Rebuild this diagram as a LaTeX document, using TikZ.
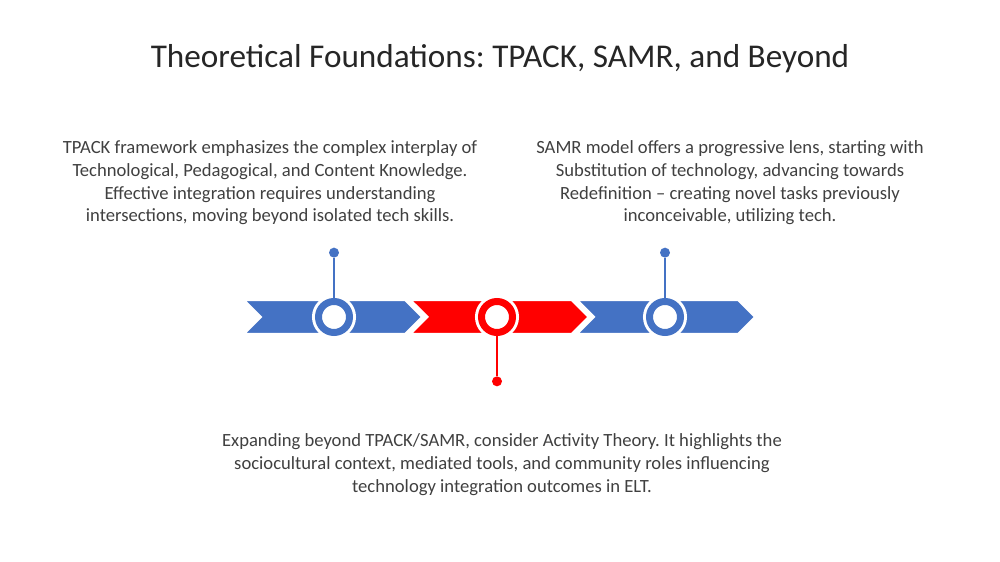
\documentclass[tikz,border=0pt]{standalone}
\usepackage{fontspec}
\setmainfont{Carlito}
\usetikzlibrary{positioning,shapes.symbols}
\definecolor{segblue}{HTML}{4472C4}
\definecolor{segred}{HTML}{FF0000}
\definecolor{bodygray}{HTML}{404040}
\definecolor{titlegray}{HTML}{262626}
\frenchspacing

\begin{document}
\begin{tikzpicture}[
  every node/.style={align=center},
  seg/.style={signal, signal to=east, signal from=west, signal pointer angle=90,
              minimum width=35.6mm, minimum height=6.8mm, inner sep=0pt,
              fill=segblue, draw=white, line width=1.2pt},
  ring/.style={circle, minimum size=6.2mm, inner sep=0pt, fill=white, draw=segblue,
               line width=1.4mm, preaction={draw=white, line width=2.6mm}},
  dot/.style={circle, minimum size=2mm, inner sep=0pt, fill=segblue},
  pin/.style={line width=1pt, color=segblue},
  txt/.style={font=\fontsize{10.6}{12.9}\selectfont, text=bodygray},
]
  \useasboundingbox (0,0) rectangle (20,-11.24);

  \node[font=\fontsize{18.9}{22}\selectfont, text=titlegray] (title) at (10,-1.17)
    {Theoretical Foundations: TPACK, SAMR, and Beyond};

  \node[txt] (tpack) at (5.4,-3.66)
    {TPACK framework emphasizes the complex interplay of\\
     Technological, Pedagogical, and Content Knowledge.\\
     Effective integration requires understanding\\
     intersections, moving beyond isolated tech skills.};
  \node[txt] (samr) at (14.6,-3.66)
    {SAMR model offers a progressive lens, starting with\\
     Substitution of technology, advancing towards\\
     Redefinition -- creating novel tasks previously\\
     inconceivable, utilizing tech.};
  \node[txt] (activity) at (10.04,-9.29)
    {Expanding beyond TPACK/SAMR, consider Activity Theory. It highlights the\\
     sociocultural context, mediated tools, and community roles influencing\\
     technology integration outcomes in ELT.};

  \node[seg] (seg1) at (6.66,-6.34) {};
  \node[seg, fill=segred] (seg2) at (9.99,-6.34) {};
  \node[seg] (seg3) at (13.32,-6.34) {};

  \node[ring] (ring1) at (6.68,-6.34) {};
  \node[ring, draw=segred] (ring2) at (9.94,-6.34) {};
  \node[ring] (ring3) at (13.3,-6.34) {};

  \node[dot, above=8mm of ring1] (dot1) {};
  \node[dot, fill=segred, below=8mm of ring2] (dot2) {};
  \node[dot, above=8mm of ring3] (dot3) {};

  \draw[pin] (ring1) -- (dot1);
  \draw[pin, color=segred] (ring2) -- (dot2);
  \draw[pin] (ring3) -- (dot3);
\end{tikzpicture}
\end{document}
